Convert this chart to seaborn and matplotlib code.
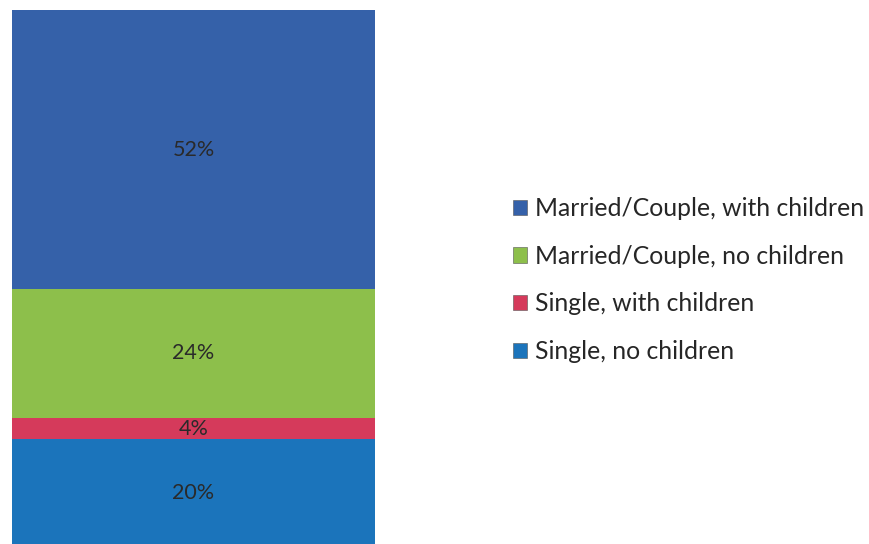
import matplotlib
matplotlib.use('Agg')
import matplotlib.pyplot as plt
import seaborn as sns
from matplotlib.patches import Patch

# data (bottom to top)
categories = ['Single, no children', 'Single, with children',
              'Married/Couple, no children', 'Married/Couple, with children']
shares = [20, 4, 24, 52]
colors = ['#1b74bb', '#d53a5b', '#8dbf4b', '#3561a9']
labels = ['20%', '4%', '24%', '52%']

sns.set_style('white')
plt.rcParams['font.family'] = ['Lato', 'DejaVu Sans']

fig = plt.figure(figsize=(8.69, 5.44), dpi=100)
ax = fig.add_axes([12 / 869, 0, 363 / 869, 534 / 544])

bottom = 0
for cat, val, col, lab in zip(categories, shares, colors, labels):
    sns.barplot(x=[0], y=[val], bottom=bottom, color=col, width=1,
                saturation=1, ax=ax, linewidth=0)
    ax.text(0, bottom + val / 2, lab, ha='center', va='center',
            fontsize=15.5, color='#2a2a2a')
    bottom += val

ax.set_xlim(-0.5, 0.5)
ax.set_ylim(0.5, 100)
ax.axis('off')

handles = [Patch(facecolor=c, edgecolor='#555555', linewidth=0.4) for c in colors[::-1]]
fig.legend(handles, categories[::-1], loc='center left',
           bbox_to_anchor=(513 / 869, 1 - 280 / 544), frameon=False,
           fontsize=17.8, handlelength=0.58, handleheight=0.58,
           handletextpad=0.33, labelspacing=1.0, borderpad=0,
           borderaxespad=0)

fig.savefig('out.png', dpi=100)
